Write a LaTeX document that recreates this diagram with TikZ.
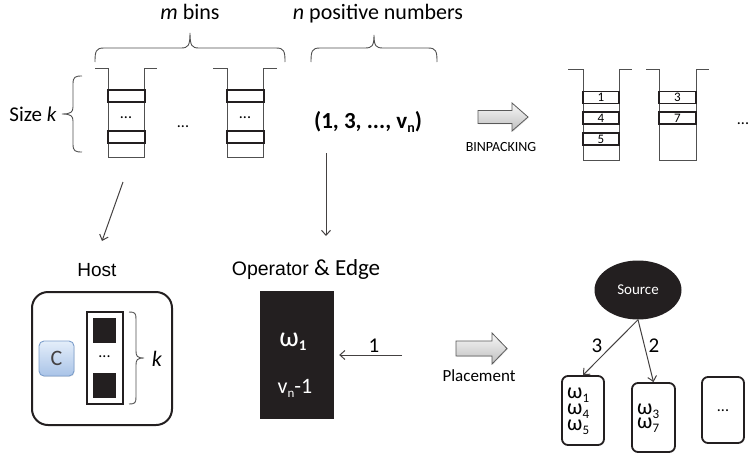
\documentclass[tikz,border=0pt]{standalone}
\usepackage{fontspec}
\setmainfont{Carlito}
\newfontfamily\arialfont{Liberation Sans}
\usetikzlibrary{arrows.meta,shapes.geometric,shadows}

\newcommand\fsz[1]{\fontsize{#1}{#1}\selectfont}
% lowered index in a smaller size
\newcommand\sub[2][13]{\raisebox{-4pt}{\fsz{#1}#2}}
% open-topped bin: left rim, left wall, right wall, right rim, top, bottom
\newcommand\binshape[6]{\draw[binwall] (#1,#5) -- (#2,#5) -- (#2,#6) -- (#3,#6) -- (#3,#5) -- (#4,#5);}

\definecolor{ink}{HTML}{231F20}
\definecolor{binline}{HTML}{505050}
\definecolor{btntop}{HTML}{E4EEFA}
\definecolor{btnbot}{HTML}{A9C3E7}
\definecolor{btnedge}{HTML}{7C9ECB}

\begin{document}
\begin{tikzpicture}[x=1pt,y=-1pt,
  binwall/.style={draw=binline, line width=0.9pt},
  item/.style={draw=ink, line width=1.8pt, inner sep=0pt, minimum height=12pt, font=\fsz{13}},
  brace/.style={draw=binline, line width=0.9pt},
  conn/.style={draw=ink!85, line width=1pt, -{Straight Barb[length=5pt,width=9pt]}},
  fat/.style={draw=gray!70!black, line width=0.8pt, top color=gray!6, bottom color=gray!50,
    drop shadow={opacity=0.2, shadow xshift=0.8pt, shadow yshift=-0.8pt}},
  txt/.style={inner sep=0pt, anchor=base},
  tbox/.style={draw=ink, line width=1.8pt, rounded corners=6pt, inner sep=0pt},
  wtxt/.style={inner sep=0pt, anchor=base west, font=\fsz{22}},
  dots/.style={inner sep=0pt, font=\fsz{16}}]
\useasboundingbox (0,0) rectangle (754,455);

% ---------- top row: bins and numbers ----------
\node[txt, font=\fsz{22}] (mbins) at (190,19) {\textit{m} bins};
\node[txt, font=\fsz{22}] (npos) at (378,19) {\textit{n} positive numbers};

\draw[brace] (95,62) .. controls (95,51) and (96,48) .. (104,48) -- (181,48)
  .. controls (188,48) and (190,46) .. (190,33)
  .. controls (190,46) and (192,48) .. (199,48) -- (276,48)
  .. controls (284,48) and (285,51) .. (285,62);
\draw[brace] (311,62) .. controls (311,51) and (312,48) .. (320,48) -- (365,48)
  .. controls (372,48) and (374,46) .. (374,35)
  .. controls (374,46) and (376,48) .. (383,48) -- (428,48)
  .. controls (436,48) and (437,51) .. (437,62);

\node[txt, font=\fsz{21}] (sizek) at (33,121) {Size \textit{k}};
\draw[brace] (82,76) .. controls (75,76) and (73,77) .. (73,84) -- (73,107)
  .. controls (73,112) and (71,114) .. (62,114)
  .. controls (71,114) and (73,116) .. (73,121) -- (73,144)
  .. controls (73,151) and (75,152) .. (82,152);

\binshape{95}{108}{144}{157}{68}{157}
\node[item, minimum width=37pt] (b1top) at (126.5,96) {};
\node[dots] (b1dots) at (126,118) {...};
\node[item, minimum width=37pt] (b1bot) at (126.5,137) {};

\node[dots] (middots) at (183,127) {...};

\binshape{213}{227}{263}{277}{68}{157}
\node[item, minimum width=37pt] (b2top) at (245.5,96) {};
\node[dots] (b2dots) at (245,118) {...};
\node[item, minimum width=37pt] (b2bot) at (245.5,137) {};

\node[txt, font=\fsz{23}\bfseries] (nums) at (368,128) {(1, 3, ..., v\sub[14]{n})};

\draw[fat] (478,110.5) -- (512,110.5) -- (512,103) -- (528,117) -- (512,131) -- (512,123.5) -- (478,123.5) -- cycle;
\node[txt, font=\fsz{14}] (binpack) at (501,151) {BINPACKING};

\binshape{568}{583}{619}{632}{69}{160}
\node[item, minimum width=36pt] (pa1) at (601,97.5) {1};
\node[item, minimum width=36pt] (pa4) at (601,118) {4};
\node[item, minimum width=36pt] (pa5) at (601,139) {5};

\binshape{646}{659}{696}{709}{69}{160}
\node[item, minimum width=37pt] (pb3) at (677.5,97.5) {3};
\node[item, minimum width=37pt] (pb7) at (677.5,118) {7};

\node[dots] (rdots) at (743,124) {...};

% ---------- mapping arrows ----------
\coordinate (hostfrom) at (123,182);
\coordinate (hostto) at (102,241);
\draw[conn] (hostfrom) -- (hostto);
\coordinate (opfrom) at (326,153);
\coordinate (opto) at (326,236);
\draw[conn] (opfrom) -- (opto);

% ---------- host ----------
\node[txt, font=\arialfont\fsz{19}] (hostlbl) at (97,276) {Host};
\node[draw=ink, line width=2pt, rounded corners=16pt, minimum width=140pt, minimum height=133pt, inner sep=0pt] (hostbox) at (102,358.5) {};
\node[draw=btnedge, line width=0.9pt, rounded corners=5pt, top color=btntop, bottom color=btnbot,
  minimum width=35pt, minimum height=35pt, inner sep=0pt, text=ink!85, font=\fsz{22},
  drop shadow={opacity=0.2, shadow xshift=0.6pt, shadow yshift=-0.8pt}] (cbtn) at (56.5,358.5) {C};
\node[draw=ink, line width=2pt, minimum width=36pt, minimum height=92pt, inner sep=0pt] (col) at (105,358) {};
\node[fill=ink, minimum width=23pt, minimum height=25pt, inner sep=0pt] (sq1) at (104.5,330.5) {};
\node[dots] (coldots) at (104.5,357) {...};
\node[fill=ink, minimum width=23pt, minimum height=25pt, inner sep=0pt] (sq2) at (104.5,385.5) {};
\draw[brace] (129,312) .. controls (135,312) and (136,313) .. (136,319) -- (136,351)
  .. controls (136,356) and (137,358) .. (144,358)
  .. controls (137,358) and (136,360) .. (136,365) -- (136,397)
  .. controls (136,403) and (135,404) .. (129,404);
\node[txt, font=\fsz{22}] (klbl) at (157,366) {\textit{k}};

% ---------- operator & edge ----------
\node[txt] (oplbl) at (306,275) {{\arialfont\fsz{19.5}Operator }{\fsz{23}\& Edge}};
\node[fill=ink, minimum width=74pt, minimum height=128pt, inner sep=0pt] (op) at (297,355) {};
\node[txt, text=white, font=\fsz{28}] (opw) at (293,346) {ω\sub[15]{\textbf{1}}};
\node[txt, text=white, font=\fsz{22}] (opv) at (295,393) {v\sub[13]{n}-1};
\coordinate (etail) at (402,355);
\draw[conn, shorten >=5pt] (etail) -- (op.east |- etail);
\node[txt, font=\fsz{21}] (elbl) at (374,352) {1};

\draw[fat] (456,341) -- (492,341) -- (492,333) -- (507,348.5) -- (492,364) -- (492,356) -- (456,356) -- cycle;
\node[txt, font=\fsz{17}] (placelbl) at (479,381) {Placement};

% ---------- placement result ----------
\node[ellipse, fill=ink, minimum width=87pt, minimum height=59pt, inner sep=0pt, text=white, font=\fsz{15}] (src) at (638,290) {Source};
\node[tbox, minimum width=42pt, minimum height=69pt] (box1) at (583,410.5) {};
\node[tbox, minimum width=43pt, minimum height=69pt] (box2) at (653.5,417.5) {};
\node[tbox, minimum width=42pt, minimum height=66pt] (box3) at (723,410) {};
\draw[conn] (src.south) -- (box1.north);
\draw[conn] (src.south) -- (box2.north);
\node[txt, font=\fsz{21}] (l3) at (597,352) {3};
\node[txt, font=\fsz{21}] (l2) at (654,352) {2};

\node[wtxt] (w1) at (567,398) {ω\sub{1}};
\node[wtxt] (w4) at (567,414) {ω\sub{4}};
\node[wtxt] (w5) at (567,430) {ω\sub{5}};
\node[wtxt] (w3) at (637,414) {ω\sub{3}};
\node[wtxt] (w7) at (637,428) {ω\sub{7}};
\node[dots] (b3dots) at (723,411) {...};
\end{tikzpicture}
\end{document}
